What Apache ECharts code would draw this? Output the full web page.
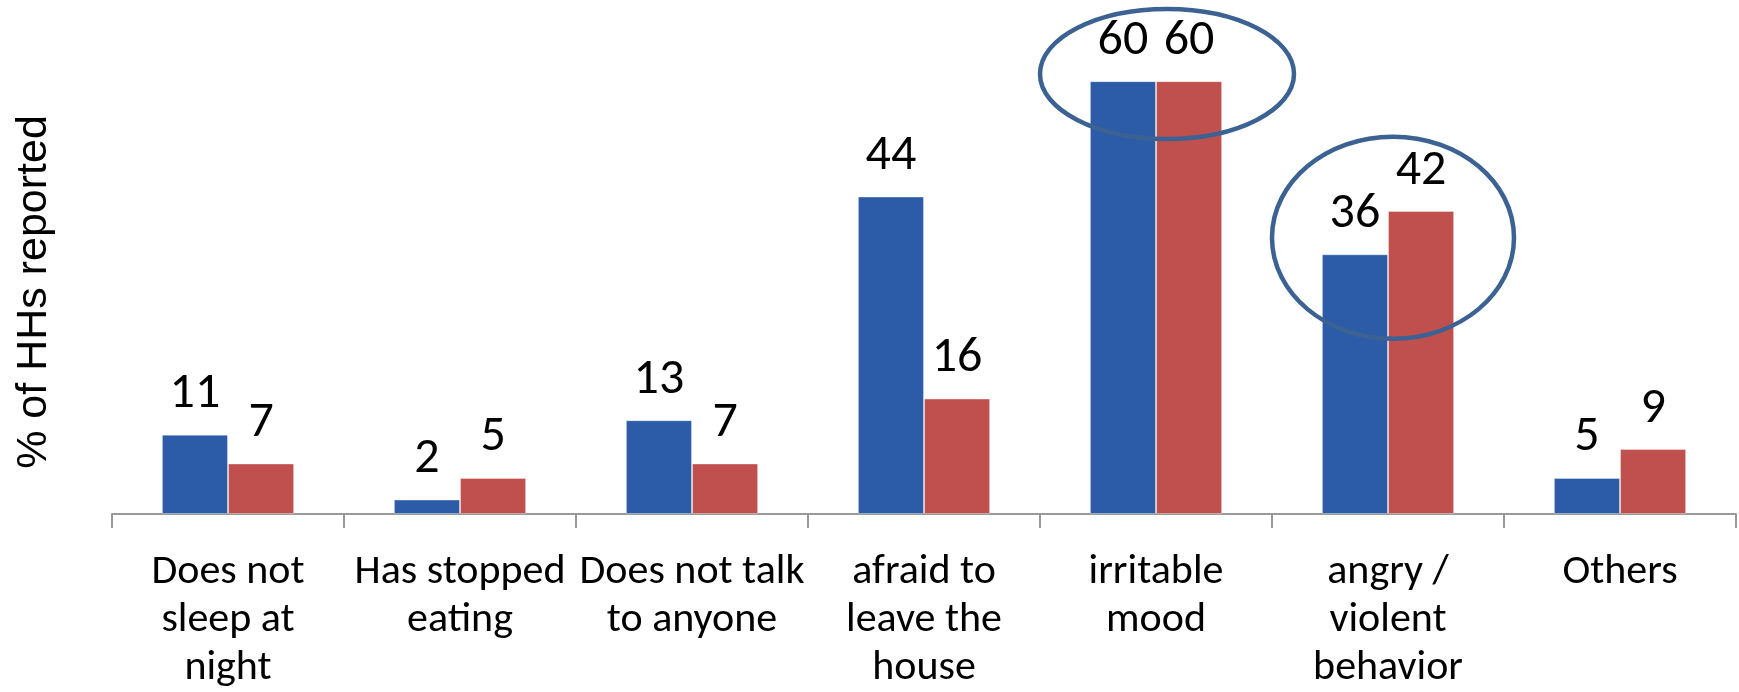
<!DOCTYPE html>
<html>
<head>
<meta charset="utf-8">
<script src="https://cdn.jsdelivr.net/npm/echarts@6/dist/echarts.min.js"></script>
<style>
  html, body { margin: 0; padding: 0; background: #ffffff; }
  #chart { width: 1739px; height: 692px; }
</style>
</head>
<body>
<div id="chart"></div>
<script>
// Behaviour changes reported, % of households
const categories = [
  'Does not\nsleep at\nnight',
  'Has stopped\neating',
  'Does not talk\nto anyone',
  'afraid to\nleave the\nhouse',
  'irritable\nmood',
  'angry /\nviolent\nbehavior',
  'Others'
];
const seriesA = [11, 2, 13, 44, 60, 36, 5];
const seriesB = [7, 5, 7, 16, 60, 42, 9];

// Highlighted groups: category index and the value the ring is centred on
const highlightCats = [4, 5];
const highlightVals = [61, 38.3];

const labelFont = 'Carlito, Calibri, Lato, sans-serif';

const chart = echarts.init(document.getElementById('chart'), null, { renderer: 'canvas' });

const valueLabel = {
  show: true,
  position: 'top',
  distance: 12,
  color: '#000000',
  fontFamily: labelFont,
  fontSize: 50,
  lineHeight: 56
};

chart.setOption({
  animation: false,
  backgroundColor: '#ffffff',
  grid: { left: 112, right: 3, top: 9, bottom: 178, containLabel: false },
  xAxis: {
    type: 'category',
    data: categories,
    axisLine: { show: true, lineStyle: { color: '#9a9a9a', width: 2 } },
    axisTick: { show: true, length: 14, lineStyle: { color: '#9a9a9a', width: 2 } },
    axisLabel: {
      interval: 0,
      margin: 34,
      color: '#000000',
      fontFamily: labelFont,
      fontSize: 42,
      lineHeight: 48
    }
  },
  yAxis: {
    type: 'value',
    min: 0,
    max: 70,
    axisLine: { show: false },
    axisTick: { show: false },
    axisLabel: { show: false },
    splitLine: { show: false }
  },
  series: [
    {
      name: 'Series 1',
      type: 'bar',
      data: seriesA,
      barGap: '0%',
      barCategoryGap: '43%',
      itemStyle: { color: '#2c5ca8', borderColor: 'rgba(255,255,255,0.35)', borderWidth: 1 },
      label: valueLabel
    },
    {
      name: 'Series 2',
      type: 'bar',
      data: seriesB,
      itemStyle: { color: '#c0504d', borderColor: 'rgba(255,255,255,0.35)', borderWidth: 1 },
      label: valueLabel
    }
  ]
});

// Rings around the highlighted groups, placed through the chart's own scales
const ringShapes = [
  { dx: 11, rx: 127, ry: 65 },
  { dx: 5, rx: 121, ry: 101 }
];
const graphics = highlightCats.map(function (ci, i) {
  const p = chart.convertToPixel({ xAxisIndex: 0, yAxisIndex: 0 }, [ci, highlightVals[i]]);
  const s = ringShapes[i];
  return {
    type: 'ellipse',
    shape: { cx: p[0] + s.dx, cy: p[1], rx: s.rx, ry: s.ry },
    style: { fill: null, stroke: '#3b6292', lineWidth: 4.5 },
    z: 100
  };
});

// Vertical axis title
graphics.push({
  type: 'text',
  x: 34,
  y: 292,
  rotation: Math.PI / 2,
  style: {
    text: '% of HHs reported',
    fontFamily: '"Liberation Sans", Arial, sans-serif',
    fontSize: 43,
    fill: '#000000',
    align: 'center',
    verticalAlign: 'middle'
  }
});
chart.setOption({ graphic: graphics });
</script>
</body>
</html>
